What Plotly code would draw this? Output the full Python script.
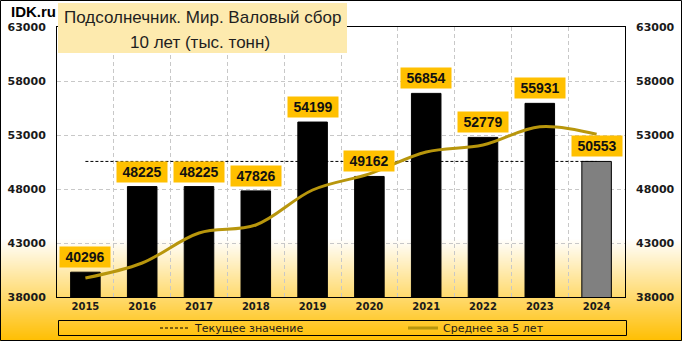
import plotly.graph_objects as go

years = [2015, 2016, 2017, 2018, 2019, 2020, 2021, 2022, 2023, 2024]
harvest = [40296, 48225, 48225, 47826, 54199, 49162, 56854, 52779, 55931, 50553]
avg5 = [39760, 41150, 43926, 44667, 47907, 49400, 51426, 52074, 53769, 53065]
y_ticks = [38000, 43000, 48000, 53000, 58000, 63000]
title_line1 = "Подсолнечник. Мир. Валовый сбор"
title_line2 = "10 лет (тыс. тонн)"
legend_current = "Текущее значение"
legend_avg = "Среднее за 5 лет"

W, H = 682, 341
ML, MR, MT, MB = 57, 57, 27, 44
PW, PH = W - ML - MR, H - MT - MB


def px_x(x):
    return (x - ML) / PW


def px_y(y):
    return (H - MB - y) / PH


current = harvest[-1]
bar_colors = ["#000000"] * (len(years) - 1) + ["#808080"]

fig = go.Figure()
fig.add_trace(go.Bar(
    x=years, y=harvest, width=0.52,
    marker=dict(color=bar_colors, line=dict(color="#000000", width=1)),
    showlegend=False, hoverinfo="skip",
))
fig.add_trace(go.Scatter(
    x=[years[0], years[-1]], y=[current, current], mode="lines",
    line=dict(color="#000000", width=1, dash="3px,2px"),
    name=legend_current,
))
fig.add_trace(go.Scatter(
    x=years, y=avg5, mode="lines",
    line=dict(color="#B8960C", width=3, shape="spline", smoothing=1.0),
    name=legend_avg,
))
# invisible trace on the right axis
fig.add_trace(go.Scatter(x=[years[0]], y=[current], yaxis="y2", mode="markers",
                         marker=dict(opacity=0), showlegend=False, hoverinfo="skip"))

for yr, v in zip(years, harvest):
    fig.add_annotation(
        x=yr, y=v, text=f"<b>{v}</b>", showarrow=False, yanchor="bottom", yshift=4,
        bgcolor="#FFC000", width=50, height=20, borderpad=0,
        font=dict(family="Liberation Sans", size=14, color="#111111"),
    )

shapes = []
# background gradient (white -> gold) in 1px strips
g0, g1 = 238, H
for yy in range(g0, g1):
    t = (yy - g0) / (g1 - g0)
    r, g, b = 255, int(round(255 - t * (255 - 190))), int(round(255 - t * 255))
    shapes.append(dict(type="rect", xref="paper", yref="paper", layer="below",
                       x0=px_x(0), x1=px_x(W), y0=px_y(yy + 1), y1=px_y(yy),
                       line=dict(width=0), fillcolor=f"rgb({r},{g},{b})"))
# outer border
shapes.append(dict(type="rect", xref="paper", yref="paper", layer="above",
                   x0=px_x(0.5), x1=px_x(W - 0.5), y0=px_y(H - 0.5), y1=px_y(0.5),
                   line=dict(color="#000000", width=1)))
# legend frame
shapes.append(dict(type="rect", xref="paper", yref="paper", layer="above",
                   x0=px_x(58.5), x1=px_x(626.5), y0=px_y(335.5), y1=px_y(320.5),
                   line=dict(color="#000000", width=1)))
# title box
shapes.append(dict(type="rect", xref="paper", yref="paper", layer="above",
                   x0=px_x(58), x1=px_x(347), y0=px_y(53), y1=px_y(3),
                   line=dict(width=0), fillcolor="#FDEAAE"))

fig.add_annotation(xref="paper", yref="paper", x=px_x(202), y=px_y(17), text=title_line1,
                   showarrow=False, xanchor="center", yanchor="middle",
                   font=dict(family="Liberation Sans", size=17, color="#1F1F1F"))
fig.add_annotation(xref="paper", yref="paper", x=px_x(200), y=px_y(42), text=title_line2,
                   showarrow=False, xanchor="center", yanchor="middle",
                   font=dict(family="Liberation Sans", size=17, color="#1F1F1F"))
fig.add_annotation(xref="paper", yref="paper", x=px_x(9), y=px_y(12), text="<b>IDK.ru</b>",
                   showarrow=False, xanchor="left", yanchor="middle",
                   font=dict(family="Liberation Sans", size=15, color="#000000"))

tickfont = dict(family="DejaVu Sans", size=11, color="#1A1A1A", weight="bold")
tick_text = [str(v) for v in y_ticks]
fig.update_layout(
    width=W, height=H, margin=dict(l=ML, r=MR, t=MT, b=MB, autoexpand=False),
    paper_bgcolor="#FFFFFF", plot_bgcolor="rgba(0,0,0,0)",
    bargap=0.48, shapes=shapes,
    xaxis=dict(range=[years[0] - 0.5, years[-1] + 0.5], tickvals=years,
               ticktext=[str(y) for y in years], showgrid=False, automargin=False,
               tickfont=dict(family="DejaVu Sans", size=10, color="#1A1A1A", weight="bold"),
               showline=True, linecolor="#000000", linewidth=1, mirror=True,
               ticks="", zeroline=False,
               minor=dict(tickvals=[y + 0.5 for y in years[:-1]], showgrid=True,
                          gridcolor="#C8C8C8", griddash="4px,3px", gridwidth=1, ticks="")),
    yaxis=dict(range=[y_ticks[0], y_ticks[-1]], tickvals=y_ticks, ticktext=tick_text,
               showgrid=True, gridcolor="#C8C8C8", griddash="4px,3px", gridwidth=1,
               tickfont=tickfont, showline=True, linecolor="#000000", linewidth=1,
               mirror=True, ticks="", zeroline=False, ticklabelstandoff=8,
               automargin=False),
    yaxis2=dict(range=[y_ticks[0], y_ticks[-1]], tickvals=y_ticks, ticktext=tick_text,
                overlaying="y", side="right", showgrid=False, tickfont=tickfont,
                ticks="", zeroline=False, ticklabelstandoff=10, automargin=False),
    legend=dict(orientation="h", x=px_x(155), xanchor="left", y=px_y(328),
                yanchor="middle", bgcolor="rgba(0,0,0,0)", borderwidth=0,
                entrywidth=203, entrywidthmode="pixels",
                font=dict(family="DejaVu Sans", size=11, color="#1A1A1A")),
)

fig.write_html("out.html")
